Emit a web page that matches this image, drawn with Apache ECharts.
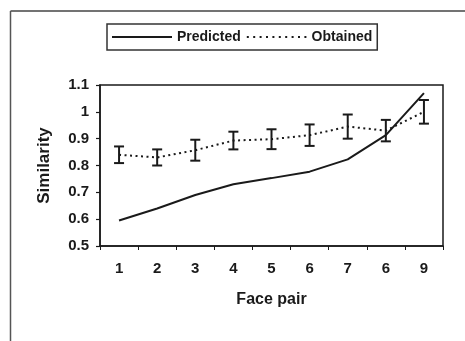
<!DOCTYPE html>
<html>
<head>
<meta charset="utf-8">
<script src="https://cdn.jsdelivr.net/npm/echarts@6/dist/echarts.min.js"></script>
<style>
  html, body { margin: 0; padding: 0; background: #fff; }
  #chart { width: 465px; height: 341px; }
</style>
</head>
<body>
<div id="chart"></div>
<script>
// Face pair labels along the x axis
var facePairs = ['1', '2', '3', '4', '5', '6', '7', '6', '9'];
// Model prediction of similarity per face pair
var predicted = [0.595, 0.64, 0.69, 0.73, 0.753, 0.777, 0.823, 0.913, 1.07];
// Measured similarity (means) and the half-length of each error bar
var obtained = [0.84, 0.83, 0.857, 0.893, 0.898, 0.913, 0.945, 0.93, 1.0];
var obtainedErr = [0.031, 0.03, 0.039, 0.033, 0.037, 0.04, 0.045, 0.04, 0.044];
// Similarity axis range
var yMin = 0.5, yMax = 1.1, yStep = 0.1;

var errorData = obtained.map(function (v, i) {
  return [i, v - obtainedErr[i], v + obtainedErr[i]];
});

var FONT = 'Arial, "Liberation Sans", sans-serif';
var INK = '#1a1a1a';

// Legend keys: a solid rule and a row of dots, both 60 x 2
var solidKey = 'path://M0,0H60V2H0Z';
var dotKey = 'path://' + (function () {
  var d = '';
  for (var x = 0; x <= 58; x += 6.4) { d += 'M' + x.toFixed(1) + ',0h2v2h-2Z'; }
  return d;
})();

var chart = echarts.init(document.getElementById('chart'), null, { renderer: 'canvas' });

chart.setOption({
  animation: false,
  backgroundColor: '#fff',
  graphic: [
    { type: 'line', shape: { x1: 10.5, y1: 11, x2: 465, y2: 11 }, style: { stroke: '#444', lineWidth: 1.5 } },
    { type: 'line', shape: { x1: 10.5, y1: 11, x2: 10.5, y2: 341 }, style: { stroke: '#555', lineWidth: 1.5 } }
  ],
  legend: {
    left: 107,
    top: 24,
    padding: [5, 5, 5, 5],
    itemGap: 6,
    itemWidth: 60,
    itemHeight: 2,
    borderColor: '#333',
    borderWidth: 1.5,
    borderRadius: 0,
    textStyle: { fontFamily: FONT, fontSize: 14, color: INK, fontWeight: 'bold', lineHeight: 16 },
    data: [
      { name: 'Predicted', icon: solidKey },
      { name: 'Obtained', icon: dotKey }
    ]
  },
  grid: {
    left: 100,
    top: 85,
    right: 22,
    bottom: 95,
    show: true,
    borderColor: INK,
    borderWidth: 1.5,
    containLabel: false
  },
  xAxis: {
    type: 'category',
    data: facePairs,
    boundaryGap: true,
    name: 'Face pair',
    nameLocation: 'middle',
    nameGap: 46,
    nameTextStyle: { fontFamily: FONT, fontSize: 16, fontWeight: 'bold', color: INK },
    axisLine: { lineStyle: { color: INK, width: 1.5 } },
    axisTick: { show: true, length: 4, lineStyle: { color: INK, width: 1 } },
    axisLabel: { margin: 15, fontFamily: FONT, fontSize: 15, fontWeight: 'bold', color: INK },
    splitLine: { show: false }
  },
  yAxis: {
    type: 'value',
    min: yMin,
    max: yMax,
    interval: yStep,
    name: 'Similarity',
    nameLocation: 'middle',
    nameRotate: 90,
    nameGap: 47,
    nameTextStyle: { fontFamily: FONT, fontSize: 17, fontWeight: 'bold', color: INK },
    axisLine: { show: true, lineStyle: { color: INK, width: 1.5 } },
    axisTick: { show: true, length: 4, lineStyle: { color: INK, width: 1.2 } },
    axisLabel: {
      margin: 11,
      fontFamily: FONT, fontSize: 15, fontWeight: 'bold', color: INK,
      formatter: function (v) { return String(Math.round(v * 10) / 10); }
    },
    splitLine: { show: false }
  },
  series: [
    {
      name: 'Predicted',
      type: 'line',
      data: predicted,
      symbol: 'none',
      lineStyle: { color: INK, width: 2, type: 'solid' },
      itemStyle: { color: INK },
      z: 3
    },
    {
      name: 'Obtained',
      type: 'line',
      data: obtained,
      symbol: 'none',
      lineStyle: { color: INK, width: 2, type: [2, 3.5] },
      itemStyle: { color: INK },
      z: 2
    },
    {
      name: 'ObtainedError',
      type: 'custom',
      data: errorData,
      z: 4,
      renderItem: function (params, api) {
        var x = api.value(0);
        var lo = api.coord([x, api.value(1)]);
        var hi = api.coord([x, api.value(2)]);
        var cap = 5;
        var st = { stroke: INK, lineWidth: 2, fill: null };
        return {
          type: 'group',
          children: [
            { type: 'line', shape: { x1: hi[0], y1: hi[1], x2: lo[0], y2: lo[1] }, style: st },
            { type: 'line', shape: { x1: hi[0] - cap, y1: hi[1], x2: hi[0] + cap, y2: hi[1] }, style: st },
            { type: 'line', shape: { x1: lo[0] - cap, y1: lo[1], x2: lo[0] + cap, y2: lo[1] }, style: st }
          ]
        };
      },
      encode: { x: 0, y: [1, 2] }
    }
  ]
});
</script>
</body>
</html>
